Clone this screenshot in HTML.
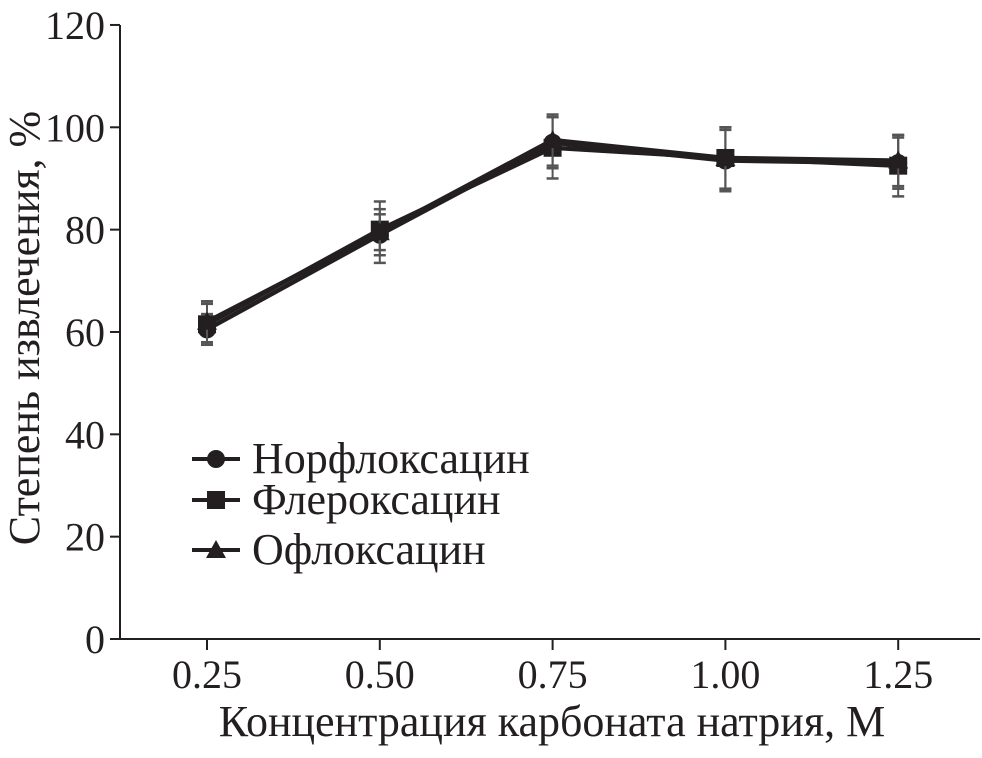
<!DOCTYPE html>
<html><head><meta charset="utf-8"><style>
body{margin:0;background:#fff}
svg text{font-family:"Liberation Serif",serif;fill:#231f20}
</style></head><body>
<svg width="982" height="753" id="c">
<g id="axes"></g>
<g id="series"></g>
<g id="legend"></g>
</svg>
<script>
const categories=[0.25,0.50,0.75,1.00,1.25];
const xTickLabels=["0.25","0.50","0.75","1.00","1.25"];
const yTicks=[0,20,40,60,80,100,120];
const norfloxacin=[60.5,79,97,93.5,93];
const fleroxacin=[61.5,80,96,94,92.5];
const ofloxacin=[62,79.5,97.5,94,93.5];
const errNor=[3,4,5,6,5];
const errFle=[4,4,6,6,6];
const errOfl=[4,6,5,6,5];
const seriesNames=["Норфлоксацин","Флероксацин","Офлоксацин"];

const NS="http://www.w3.org/2000/svg";
function X(v){return 207+(v-0.25)/0.25*172.8;}
function Y(v){return 639-v*5.117;}
function mk(tag,attrs,parent,txt){const e=document.createElementNS(NS,tag);for(const k in attrs)e.setAttribute(k,attrs[k]);if(txt!==undefined)e.textContent=txt;parent.appendChild(e);return e;}
const ax=document.getElementById('axes');
let e=mk('line',{x1:120,y1:Y(120),x2:120,y2:639,stroke:'#231f20','stroke-width':2},ax);


e=mk('line',{x1:120,y1:639,x2:980,y2:639,stroke:'#231f20','stroke-width':2},ax);


yTicks.forEach(t=>{
 mk('line',{x1:110,y1:Y(t),x2:120,y2:Y(t),stroke:'#231f20','stroke-width':2},ax);
 e=mk('text',{x:105,y:Y(t)+14,'text-anchor':'end','font-size':40},ax,String(t));
 
 
});
categories.forEach((c,i)=>{
 mk('line',{x1:X(c),y1:639,x2:X(c),y2:650,stroke:'#231f20','stroke-width':2},ax);
 e=mk('text',{x:X(c),y:688,'text-anchor':'middle','font-size':40},ax,xTickLabels[i]);
 
 
});
e=mk('text',{x:552,y:736,'text-anchor':'middle','font-size':44},ax,"Концентрация карбоната натрия, М");


e=mk('text',{x:0,y:0,'text-anchor':'middle','font-size':44,transform:'translate(39,328) rotate(-90)'},ax,"Степень извлечения, %");



function marker(type,x,y,p){
 if(type==0)return mk('circle',{cx:x,cy:y,r:9,fill:'#231f20'},p);
 if(type==1)return mk('rect',{x:x-9,y:y-9,width:18,height:18,fill:'#231f20'},p);
 return mk('polygon',{points:`${x},${y-10} ${x+10},${y+8} ${x-10},${y+8}`,fill:'#231f20'},p);
}
const sg=document.getElementById('series');
const data=[norfloxacin,fleroxacin,ofloxacin],errs=[errNor,errFle,errOfl];
data.forEach((d,s)=>{
 const g=mk('g',{},sg);
 
 
 d.forEach((v,i)=>{
  const x=X(categories[i]),er=errs[s][i];
  mk('line',{x1:x,y1:Y(v+er),x2:x,y2:Y(v-er),stroke:'#555','stroke-width':2},g);
  mk('line',{x1:x-6,y1:Y(v+er),x2:x+6,y2:Y(v+er),stroke:'#555','stroke-width':2.5},g);
  mk('line',{x1:x-6,y1:Y(v-er),x2:x+6,y2:Y(v-er),stroke:'#555','stroke-width':2.5},g);
 });
 const pts=d.map((v,i)=>X(categories[i])+','+Y(v)).join(' ');
 e=mk('polyline',{points:pts,fill:'none',stroke:'#231f20','stroke-width':4.5},g);
 
 
 d.forEach((v,i)=>{
  e=marker(s,X(categories[i]),Y(v),g);
  
  
 });
});
const lg=document.getElementById('legend');
[459,500,550].forEach((y,s)=>{
 const g=mk('g',{},lg);
 
 
 mk('line',{x1:192,y1:y,x2:240,y2:y,stroke:'#231f20','stroke-width':4},g);
 marker(s,216,y,g);
 mk('text',{x:252,y:y+14,'font-size':44},g,seriesNames[s]);
});
</script>
</body></html>
